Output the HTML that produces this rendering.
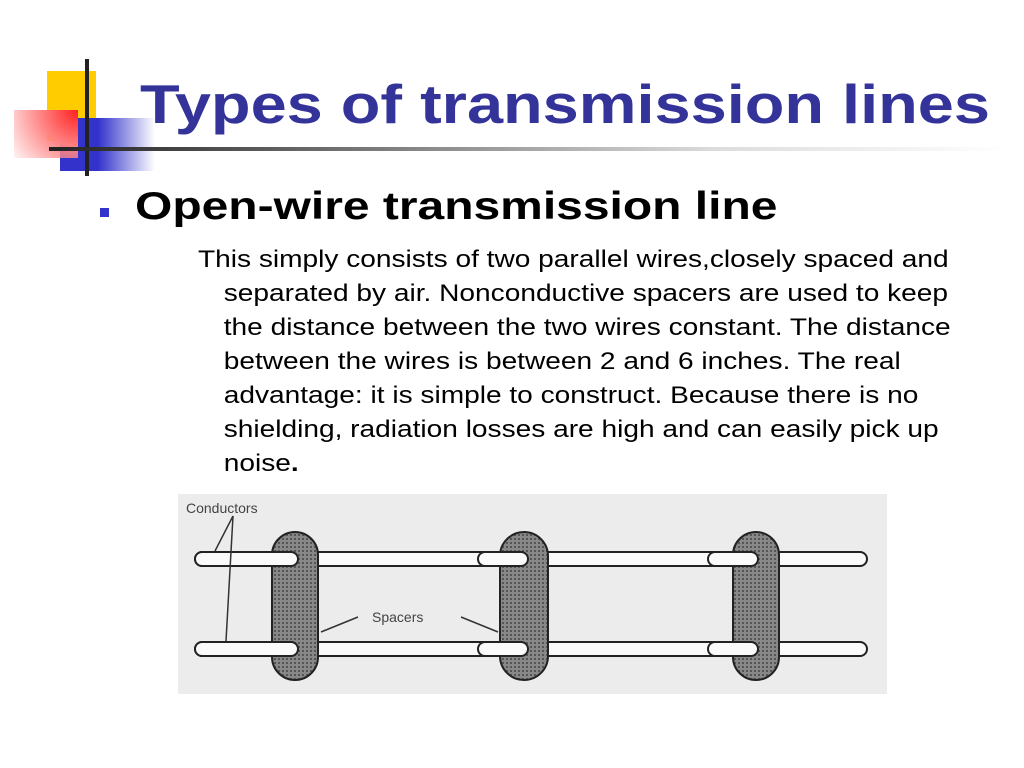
<!DOCTYPE html>
<html><head><style>
body{margin:0;width:1024px;height:768px;background:#fff;position:relative;overflow:hidden;font-family:"Liberation Sans",sans-serif}
.a{position:absolute}
</style></head><body>
<div class="a" style="left:47px;top:71px;width:49px;height:70px;background:#ffcc00"></div>
<div class="a" style="left:60px;top:118px;width:95px;height:53px;background:linear-gradient(to right,#3333cc 0%,#3333cc 40%,rgba(51,51,204,0) 100%)"></div>
<div class="a" style="left:14px;top:110px;width:64px;height:48px;background:radial-gradient(circle at 100% 0%,#ff2020 0%,#ff8080 45%,rgba(255,220,220,0.3) 100%)"></div>
<div class="a" style="left:85px;top:59px;width:4px;height:117px;background:#222"></div>
<div class="a" style="left:49px;top:147px;width:960px;height:4px;background:linear-gradient(to right,#222 0%,#555 20%,#ddd 70%,#fff 100%)"></div>
<div class="a" style="left:140px;top:72px;font-size:55px;font-weight:bold;color:#333399;white-space:nowrap;transform:scaleX(1.18);transform-origin:0 0">Types of transmission lines</div>
<div class="a" style="left:100px;top:208px;width:9px;height:9px;background:#3333cc"></div>
<div class="a" style="left:135px;top:185px;font-size:39px;font-weight:bold;color:#000;white-space:nowrap;transform:scaleX(1.23);transform-origin:0 0">Open-wire transmission line</div>
<div class="a" style="left:198px;top:243px;font-size:24px;line-height:34px;color:#000;white-space:nowrap;transform:scaleX(1.17);transform-origin:0 0">
<div>This simply consists of two parallel wires,closely spaced and</div>
<div style="padding-left:22px">separated by air. Nonconductive spacers are used to keep<br>the distance between the two wires constant. The distance<br>between the wires is between 2 and 6 inches. The real<br>advantage: it is simple to construct. Because there is no<br>shielding, radiation losses are high and can easily pick up<br>noise<b>.</b></div>
</div>
<svg class="a" style="left:178px;top:494px" width="709" height="200" viewBox="0 0 709 200">
<rect width="709" height="200" fill="#ececec"/>
<defs><pattern id="p" width="4" height="4" patternUnits="userSpaceOnUse"><rect width="4" height="4" fill="#888"/><rect width="2" height="2" fill="#555"/></pattern></defs>
<g stroke="#222" stroke-width="2" fill="#fafafa">
<rect x="17" y="58" width="672" height="14" rx="7"/>
<rect x="17" y="148" width="672" height="14" rx="7"/>
<rect x="94" y="38" width="46" height="148" rx="23" fill="url(#p)"/>
<rect x="322" y="38" width="48" height="148" rx="24" fill="url(#p)"/>
<rect x="555" y="38" width="46" height="148" rx="23" fill="url(#p)"/>
<rect x="17" y="58" width="103" height="14" rx="7"/>
<rect x="17" y="148" width="103" height="14" rx="7"/>
<rect x="300" y="58" width="50" height="14" rx="7"/>
<rect x="300" y="148" width="50" height="14" rx="7"/>
<rect x="530" y="58" width="50" height="14" rx="7"/>
<rect x="530" y="148" width="50" height="14" rx="7"/>
</g>
<g stroke="#333" stroke-width="1.5" fill="none">
<line x1="55" y1="22" x2="37" y2="57"/><line x1="55" y1="22" x2="48" y2="147"/>
<line x1="180" y1="123" x2="143" y2="138"/><line x1="283" y1="123" x2="320" y2="138"/>
</g>
<text x="8" y="19" font-size="14" fill="#444" font-family="Liberation Sans">Conductors</text>
<text x="194" y="128" font-size="14" fill="#444" font-family="Liberation Sans">Spacers</text>
</svg>
</body></html>
